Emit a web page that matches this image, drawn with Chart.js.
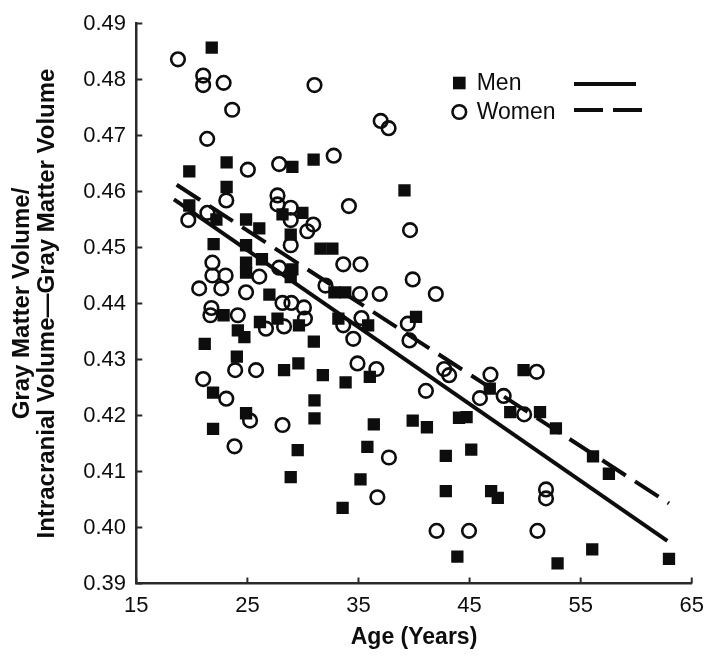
<!DOCTYPE html>
<html>
<head>
<meta charset="utf-8">
<script src="https://cdn.jsdelivr.net/npm/chart.js@4.4.1/dist/chart.umd.min.js"></script>
<style>
  html, body { margin: 0; padding: 0; background: #ffffff; }
  #wrap { width: 713px; height: 663px; }
</style>
</head>
<body>
<div id="wrap"><canvas id="c" width="713" height="663"></canvas></div>
<script>
// ---------- data ----------
const menAge = [21.79,19.77,23.13,29.05,30.96,23.13,29.95,28.16,19.77,22.21,
  24.88,26.07,21.96,24.88,28.90,31.58,32.65,24.88,26.31,29.05,
  24.88,28.90,26.98,32.83,33.81,22.86,26.13,27.71,29.64,24.14,
  24.73,21.16,30.98,24.05,29.59,28.30,31.79,21.91,31.04,24.88,
  31.04,21.91,29.53,28.90,39.14,40.18,33.19,35.87,36.02,33.84,
  36.38,39.88,41.16,44.05,44.73,35.80,42.86,45.15,35.18,33.57,
  42.86,46.94,47.54,43.90,46.82,48.66,49.86,51.34,52.77,56.11,
  57.54,52.92,56.04,62.95];
const menRatio = [0.4857,0.4636,0.4652,0.4644,0.4657,0.4608,0.4562,0.4559,0.4575,0.4550,
  0.4550,0.4534,0.4506,0.4504,0.4523,0.4498,0.4498,0.4473,0.4479,0.4461,
  0.4455,0.4447,0.4416,0.4420,0.4420,0.4379,0.4367,0.4373,0.4361,0.4352,
  0.4340,0.4328,0.4332,0.4305,0.4293,0.4281,0.4272,0.4241,0.4227,0.4204,
  0.4195,0.4176,0.4138,0.4090,0.4602,0.4376,0.4373,0.4361,0.4269,0.4259,
  0.4184,0.4191,0.4179,0.4196,0.4197,0.4144,0.4128,0.4139,0.4086,0.4035,
  0.4065,0.4065,0.4053,0.3948,0.4248,0.4206,0.4281,0.4206,0.4177,0.4127,
  0.4096,0.3936,0.3961,0.3944];

const womenAge = [18.75,21.02,21.02,22.86,31.04,23.63,21.38,25.04,27.86,32.77,
  23.10,27.71,27.71,28.90,28.90,30.93,30.39,19.68,21.40,28.90,
  21.85,27.86,21.85,23.04,26.07,20.66,22.65,24.88,32.03,33.63,
  28.16,28.96,30.09,21.76,21.67,24.14,30.18,26.67,28.30,23.90,
  25.78,21.02,23.10,25.24,28.16,23.84,37.00,37.71,34.14,39.64,
  35.18,39.88,35.13,36.91,41.96,39.44,35.27,33.63,34.53,39.59,
  34.91,36.61,42.71,43.16,46.88,48.07,45.93,49.91,41.07,37.74,
  36.70,42.03,44.95,51.04,51.88,51.88,51.11];
const womenRatio = [0.4836,0.4807,0.4790,0.4794,0.4790,0.4746,0.4694,0.4639,0.4649,0.4664,
  0.4584,0.4593,0.4577,0.4571,0.4549,0.4541,0.4529,0.4549,0.4562,0.4504,
  0.4473,0.4464,0.4450,0.4450,0.4448,0.4427,0.4427,0.4420,0.4432,0.4470,
  0.4401,0.4401,0.4393,0.4392,0.4379,0.4379,0.4373,0.4355,0.4359,0.4281,
  0.4281,0.4265,0.4230,0.4191,0.4183,0.4145,0.4726,0.4713,0.4574,0.4531,
  0.4470,0.4443,0.4417,0.4417,0.4417,0.4364,0.4374,0.4361,0.4337,0.4334,
  0.4293,0.4283,0.4283,0.4272,0.4273,0.4235,0.4231,0.4202,0.4244,0.4125,
  0.4054,0.3994,0.3994,0.4278,0.4068,0.4052,0.3994];

// regression lines (end points)
const menFitAge = [18.39, 62.80];
const menFitRatio = [0.4586, 0.3976];
const womenFitAge = [18.63, 62.95];
const womenFitRatio = [0.4612, 0.4043];

// ticks and texts
const xTicks = [15, 25, 35, 45, 55, 65];
const yTicks = [0.39, 0.40, 0.41, 0.42, 0.43, 0.44, 0.45, 0.46, 0.47, 0.48, 0.49];
const seriesNames = ['Men', 'Women'];
const xTitle = 'Age (Years)';
const yTitle = ['Gray Matter Volume/', 'Intracranial Volume\u2014Gray Matter Volume'];

// ---------- styling ----------
const FONT = "'Liberation Sans', Arial, Helvetica, sans-serif";
const INK = '#0d0d0d';
const AXIS = '#2a2a2a';

function pts(xs, ys) { return xs.map((x, i) => ({ x: x, y: ys[i] })); }

// inward tick marks drawn at the library's tick positions
const tickMarks = {
  id: 'tickMarks',
  afterDraw(chart) {
    const ctx = chart.ctx, a = chart.chartArea;
    const xs = chart.scales.x, ys = chart.scales.y;
    ctx.save();
    ctx.strokeStyle = AXIS;
    ctx.lineWidth = 2;
    ctx.beginPath();
    xs.ticks.forEach(t => {
      const p = xs.getPixelForValue(t.value);
      ctx.moveTo(p, a.bottom); ctx.lineTo(p, a.bottom - 6);
    });
    ys.ticks.forEach(t => {
      const p = ys.getPixelForValue(t.value);
      ctx.moveTo(a.left, p); ctx.lineTo(a.left + 6, p);
    });
    ctx.stroke();
    ctx.restore();
  }
};

// legend: marker, name, and line sample
const legendBox = {
  id: 'legendBox',
  afterDraw(chart) {
    const ctx = chart.ctx, a = chart.chartArea;
    const x0 = a.left + 323, y0 = a.top + 59.5;
    ctx.save();
    ctx.fillStyle = INK;
    ctx.fillRect(x0 - 6.3, y0 - 6.3, 12.6, 12.6);
    ctx.strokeStyle = INK;
    ctx.lineWidth = 2.6;
    ctx.beginPath();
    ctx.arc(x0, y0 + 29, 6.8, 0, Math.PI * 2);
    ctx.stroke();
    ctx.font = '23px ' + FONT;
    ctx.textBaseline = 'middle';
    ctx.textAlign = 'left';
    ctx.fillText(seriesNames[0], x0 + 17.4, y0 + 0.5);
    ctx.fillText(seriesNames[1], x0 + 17.4, y0 + 29.5);
    ctx.lineWidth = 4;
    ctx.beginPath();
    ctx.moveTo(x0 + 114.7, y0 + 1); ctx.lineTo(x0 + 176.7, y0 + 1);
    ctx.stroke();
    ctx.setLineDash([29, 10]);
    ctx.beginPath();
    ctx.moveTo(x0 + 114.7, y0 + 27); ctx.lineTo(x0 + 183.4, y0 + 27);
    ctx.stroke();
    ctx.restore();
  }
};

new Chart(document.getElementById('c').getContext('2d'), {
  type: 'scatter',
  data: {
    datasets: [
      {
        label: seriesNames[0] + ' fit',
        data: pts(menFitAge, menFitRatio),
        showLine: true,
        borderColor: INK,
        borderWidth: 4,
        pointRadius: 0,
        fill: false,
        order: 0
      },
      {
        label: seriesNames[1] + ' fit',
        data: pts(womenFitAge, womenFitRatio),
        showLine: true,
        borderColor: INK,
        borderWidth: 4,
        borderDash: [28, 11],
        pointRadius: 0,
        fill: false,
        order: 0
      },
      {
        label: seriesNames[0],
        data: pts(menAge, menRatio),
        pointStyle: 'rect',
        pointRadius: 8.7,
        pointBackgroundColor: INK,
        pointBorderColor: INK,
        pointBorderWidth: 0,
        order: 2
      },
      {
        label: seriesNames[1],
        data: pts(womenAge, womenRatio),
        pointStyle: 'circle',
        pointRadius: 6.8,
        pointBackgroundColor: 'rgba(0,0,0,0)',
        pointBorderColor: INK,
        pointBorderWidth: 2.6,
        order: 1
      }
    ]
  },
  options: {
    responsive: false,
    animation: false,
    events: [],
    devicePixelRatio: 1,
    layout: { padding: { left: 0, right: 16.7, top: 19.5, bottom: 0 } },
    plugins: { legend: { display: false }, tooltip: { enabled: false } },
    scales: {
      x: {
        type: 'linear',
        min: 15, max: 65,
        afterBuildTicks(s) { s.ticks = xTicks.map(v => ({ value: v })); },
        afterFit(s) { s.height = 79.5; },
        grid: { display: false, drawTicks: false },
        border: { display: true, color: AXIS, width: 2.5 },
        ticks: {
          padding: 9, color: INK, autoSkip: false, maxRotation: 0,
          font: { family: FONT, size: 22 },
          callback: (v) => String(v)
        },
        title: {
          display: true, text: xTitle, color: INK,
          font: { family: FONT, size: 23, weight: 'bold', lineHeight: 1.2 },
          padding: { top: 0, bottom: 11.5 }
        }
      },
      y: {
        type: 'linear',
        min: 0.39, max: 0.49,
        afterBuildTicks(s) { s.ticks = yTicks.map(v => ({ value: v })); },
        afterFit(s) { s.width = 136.3; },
        grid: { display: false, drawTicks: false },
        border: { display: true, color: AXIS, width: 2.5 },
        ticks: {
          padding: 10.3, color: INK, autoSkip: false,
          font: { family: FONT, size: 22 },
          callback: (v) => Number(v).toFixed(2)
        },
        title: {
          display: true, text: yTitle, color: INK,
          font: { family: FONT, size: 24, weight: 'bold', lineHeight: 1.05 },
          padding: { top: 9.4, bottom: 0 }
        }
      }
    }
  },
  plugins: [tickMarks, legendBox]
});
</script>
</body>
</html>
